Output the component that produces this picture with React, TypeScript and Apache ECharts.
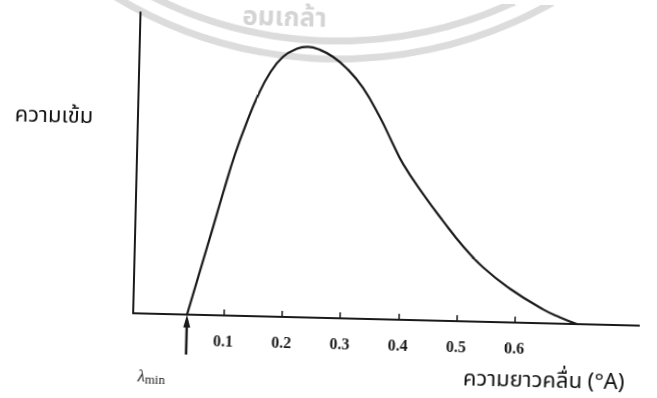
import React, { useEffect, useRef } from "react";
import * as echarts from "echarts";

// Wavelength (Å) and relative intensity
const wavelength = [
  0.0371, 0.0578, 0.078, 0.095, 0.1125, 0.1318, 0.15, 0.1692, 0.1909, 0.2146,
  0.2334, 0.2542, 0.2767, 0.3012, 0.3294, 0.3599, 0.3816, 0.4015, 0.437, 0.4724,
  0.5079, 0.5431, 0.5901, 0.6478, 0.6773, 0.7067,
];
const intensity = [
  0, 14.8, 29.2, 41.5, 53.5, 64.5, 73.5, 80.9, 86.4, 89.2,
  89.9, 89.0, 86.8, 83.0, 76.8, 67.1, 59.0, 51.8, 42.0, 33.2,
  24.9, 18.1, 11.2, 4.6, 2.1, 0,
];
const tickValues = [0.1, 0.2, 0.3, 0.4, 0.5, 0.6];
const lambdaMin = 0.0371;
const xTitle = "ความยาวคลื่น (°A)";
const yTitle = "ความเข้ม";
const watermarkText = "อมเกล้า";

const thaiFont = "'Noto Sans Thai', 'Noto Sans', 'DejaVu Sans', sans-serif";
const serifFont = "'Liberation Serif', 'Times New Roman', serif";

export default function App() {
  const ref = useRef<HTMLDivElement>(null);
  useEffect(() => {
    const chart = echarts.init(ref.current!, null, { renderer: "svg" });
    const points = wavelength.map((w, i) => [w, intensity[i]]);
    chart.setOption({
      animation: false,
      backgroundColor: "#ffffff",
      grid: { left: 136, right: 15, top: 17, bottom: 80 },
      xAxis: {
        type: "value",
        min: -0.0554,
        max: 0.8131,
        axisLine: { show: true, onZero: false, lineStyle: { color: "#1a1a1a", width: 2 } },
        axisTick: {
          show: true,
          inside: true,
          length: 6,
          customValues: tickValues,
          lineStyle: { color: "#1a1a1a", width: 1.5 },
        },
        axisLabel: {
          customValues: tickValues,
          margin: 17,
          color: "#1a1a1a",
          fontFamily: serifFont,
          fontWeight: "bold",
          fontSize: 16,
          formatter: (v: number) => v.toFixed(1),
        },
        splitLine: { show: false },
      },
      yAxis: {
        type: "value",
        min: 0,
        max: 100,
        axisLine: { show: true, onZero: false, lineStyle: { color: "#1a1a1a", width: 2 } },
        axisTick: { show: false },
        axisLabel: { show: false },
        splitLine: { show: false },
      },
      series: [
        {
          type: "line",
          data: points,
          smooth: 0.45,
          showSymbol: false,
          lineStyle: { color: "#1a1a1a", width: 2.2 },
        },
      ],
    });
    const base = chart.convertToPixel({ gridIndex: 0 }, [lambdaMin, 0]) as number[];
    const ax = base[0];
    const ay = base[1];
    chart.setOption({
      graphic: [
        {
          type: "circle",
          silent: true,
          z: -10,
          shape: { cx: 325, cy: -373, r: 432 },
          style: { fill: "none", stroke: "#dcdcdc", lineWidth: 7 },
        },
        {
          type: "circle",
          silent: true,
          z: -10,
          shape: { cx: 325, cy: -373, r: 414 },
          style: { fill: "none", stroke: "#dcdcdc", lineWidth: 7 },
        },
        {
          type: "text",
          silent: true,
          z: -10,
          x: 238,
          y: 6,
          style: {
            text: watermarkText,
            fill: "#d4d4d4",
            font: `bold 26px ${thaiFont}`,
            lineHeight: 26,
            verticalAlign: "top",
          },
        },
        {
          type: "text",
          x: 52,
          y: 122,
          style: {
            text: yTitle,
            fill: "#111111",
            font: `22px ${thaiFont}`,
            lineHeight: 34,
            align: "center",
            verticalAlign: "middle",
          },
        },
        {
          type: "text",
          x: 548,
          y: 375,
          style: {
            text: xTitle,
            fill: "#111111",
            font: `22px ${thaiFont}`,
            lineHeight: 30,
            align: "center",
            verticalAlign: "middle",
          },
        },
        {
          type: "line",
          shape: { x1: ax, y1: ay + 40, x2: ax, y2: ay + 6 },
          style: { stroke: "#1a1a1a", lineWidth: 2.5 },
        },
        {
          type: "polygon",
          shape: { points: [[ax, ay], [ax - 3.5, ay + 13], [ax + 3.5, ay + 13]] },
          style: { fill: "#1a1a1a" },
        },
        {
          type: "text",
          x: ax - 48,
          y: ay + 62,
          style: {
            text: "{l|λ}{m|min}",
            fill: "#1a1a1a",
            verticalAlign: "middle",
            rich: {
              l: { fontFamily: serifFont, fontSize: 17, fontStyle: "italic", fill: "#1a1a1a" },
              m: { fontFamily: serifFont, fontSize: 13, fill: "#1a1a1a", padding: [6, 0, 0, 0] },
            },
          },
        },
      ],
    });
    return () => chart.dispose();
  }, []);
  return (
    <div
      ref={ref}
      style={{
        position: "fixed",
        left: 0,
        top: 0,
        width: 657,
        height: 398,
        transform: "rotate(1.4deg)",
        transformOrigin: "50% 50%",
      }}
    />
  );
}
